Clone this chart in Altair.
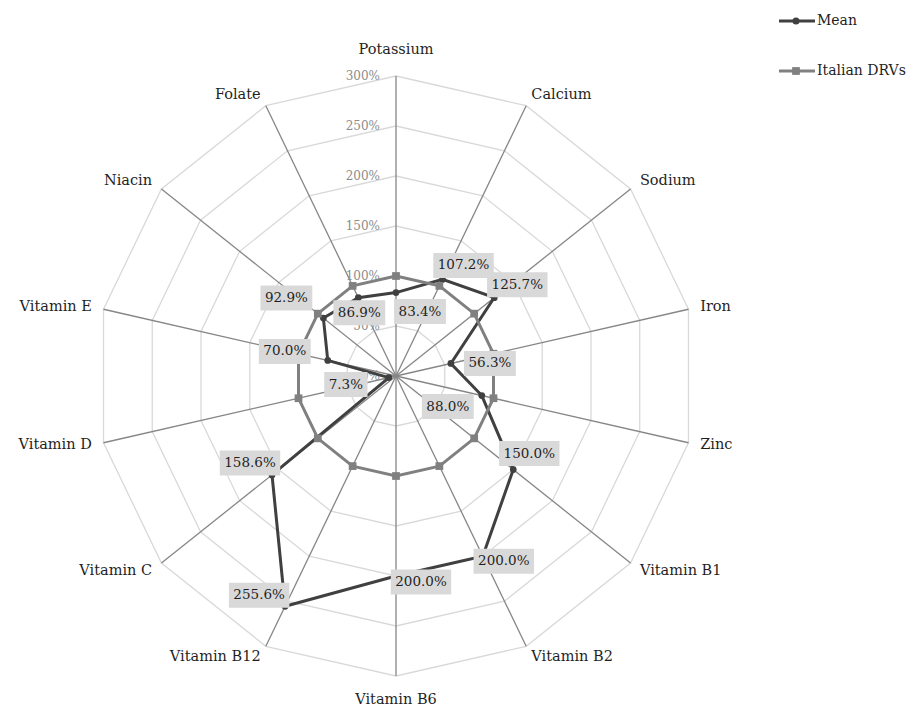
import math
import altair as alt
import pandas as pd

# ---------------- data ----------------
categories = ["Potassium", "Calcium", "Sodium", "Iron", "Zinc", "Vitamin B1",
              "Vitamin B2", "Vitamin B6", "Vitamin B12", "Vitamin C",
              "Vitamin D", "Vitamin E", "Niacin", "Folate"]
mean_values = [83.4, 107.2, 125.7, 56.3, 88.0, 150.0, 200.0, 200.0,
               255.6, 158.6, 7.3, 70.0, 92.9, 86.9]
drv_values = [100, 100, 100, 100, 100, 100, 100, 100, 100, 100, 100, 100, 100, 100]
series_names = ["Mean", "Italian DRVs"]
tick_values = [0, 50, 100, 150, 200, 250, 300]
tick_labels = ["0%", "50%", "100%", "150%", "200%", "250%", "300%"]

# ---------------- style ----------------
FONT = "DejaVu Serif"
MEAN_COLOR = "#404040"
DRV_COLOR = "#808080"
GRID_COLOR = "#d9d9d9"
SPOKE_COLOR = "#868686"
TEXT_COLOR = "#1f1f1f"
# nudges of the data labels from their point (pixels, right / down)
label_nudge = {
    "Potassium": (24, 19), "Calcium": (21, -14), "Sodium": (23, -13),
    "Iron": (39, 0), "Zinc": (-34, 11), "Vitamin B1": (16, -16),
    "Vitamin B2": (21, 5), "Vitamin B6": (25, 6), "Vitamin B12": (-26, -11),
    "Vitamin C": (-22, -12), "Vitamin D": (-43, 7), "Vitamin E": (-43, -9),
    "Niacin": (-37, -20), "Folate": (1, 15),
}
LABEL_FS = 13.5
CHAR_W = {"%": 0.948, ".": 0.318}
DIGIT_W = 0.636

n = len(categories)
R = max(tick_values)


def polar(r, i):
    a = 2 * math.pi * i / n
    return r * math.sin(a), r * math.cos(a)


grid_rows = []
for lv in tick_values[1:]:
    for k in range(n + 1):
        x, y = polar(lv, k % n)
        grid_rows.append({"level": lv, "idx": k, "x": x, "y": y})
grid_df = pd.DataFrame(grid_rows)

spoke_rows = []
for i, c in enumerate(categories):
    x2, y2 = polar(R, i)
    s = math.sin(2 * math.pi * i / n)
    cval = math.cos(2 * math.pi * i / n)
    if abs(s) < 1e-6:
        align = "center"
        lr = R + (26 if cval > 0 else 24)
    else:
        align = "left" if s > 0 else "right"
        lr = R + 12
    lx, ly = polar(lr, i)
    spoke_rows.append({"cat": c, "x0": 0.0, "y0": 0.0, "x2": x2, "y2": y2,
                       "lx": lx, "ly": ly, "align": align})
spoke_df = pd.DataFrame(spoke_rows)

tick_df = pd.DataFrame({"x": [0.0] * len(tick_values), "y": tick_values,
                        "label": tick_labels})


def series_frame(name, vals):
    rows = []
    for k in range(n + 1):
        i = k % n
        x, y = polar(vals[i], i)
        rows.append({"series": name, "order": k, "cat": categories[i],
                     "value": vals[i], "x": x, "y": y})
    return pd.DataFrame(rows)


mean_df = series_frame(series_names[0], mean_values)
drv_df = series_frame(series_names[1], drv_values)


def text_w(t):
    return sum(CHAR_W.get(ch, DIGIT_W) for ch in t) * LABEL_FS


lab_rows = []
for i, c in enumerate(categories):
    x, y = polar(mean_values[i], i)
    dx, dy = label_nudge[c]
    lx, ly = x + dx, y - dy
    txt = f"{mean_values[i]:.1f}%"
    w = text_w(txt) + 9
    lab_rows.append({"label": txt, "lx": lx, "ly": ly,
                     "bx1": lx - w / 2, "bx2": lx + w / 2,
                     "by1": ly - 12.5, "by2": ly + 12.5})
lab_df = pd.DataFrame(lab_rows)

SX = alt.Scale(domain=[-R, R], nice=False, zero=False)
SY = alt.Scale(domain=[-R, R], nice=False, zero=False)


def X(f):
    return alt.X(f, type="quantitative", scale=SX, axis=None)


def Y(f):
    return alt.Y(f, type="quantitative", scale=SY, axis=None)


grid = alt.Chart(grid_df).mark_line(color=GRID_COLOR, strokeWidth=1.3).encode(
    x=X("x"), y=Y("y"), detail="level:N", order="idx:Q")

spokes = alt.Chart(spoke_df).mark_rule(color=SPOKE_COLOR, strokeWidth=1.3).encode(
    x=X("x0"), y=Y("y0"), x2="x2:Q", y2="y2:Q")

ticks = alt.Chart(tick_df).mark_text(
    align="right", baseline="middle", dx=-16, font=FONT, fontSize=12,
    color="#8c8c8c").encode(x=X("x"), y=Y("y"), text="label:N")

mean_line = alt.Chart(mean_df).mark_line(color=MEAN_COLOR, strokeWidth=3).encode(
    x=X("x"), y=Y("y"), order="order:Q")
drv_line = alt.Chart(drv_df).mark_line(color=DRV_COLOR, strokeWidth=3).encode(
    x=X("x"), y=Y("y"), order="order:Q")
mean_pts = alt.Chart(mean_df).transform_filter(alt.datum.order < n).mark_point(
    shape="circle", filled=True, size=45, color=MEAN_COLOR, opacity=1).encode(
    x=X("x"), y=Y("y"))
drv_pts = alt.Chart(drv_df).transform_filter(alt.datum.order < n).mark_point(
    shape="square", filled=True, size=60, color=DRV_COLOR, opacity=1).encode(
    x=X("x"), y=Y("y"))

boxes = alt.Chart(lab_df).mark_rect(color="#d9d9d9").encode(
    x=X("bx1"), x2="bx2:Q", y=Y("by1"), y2="by2:Q")
box_text = alt.Chart(lab_df).mark_text(
    font=FONT, fontSize=LABEL_FS, color=TEXT_COLOR, baseline="middle").encode(
    x=X("lx"), y=Y("ly"), text="label:N")

cat_layers = []
for al in ["left", "right", "center"]:
    cat_layers.append(
        alt.Chart(spoke_df).transform_filter(alt.datum.align == al).mark_text(
            align=al, baseline="middle", font=FONT, fontSize=14.5,
            color=TEXT_COLOR).encode(x=X("lx"), y=Y("ly"), text="cat:N"))

leg_df = pd.DataFrame({"series": series_names})
leg_layers = []
leg_style = [(MEAN_COLOR, "circle", 50), (DRV_COLOR, "square", 60)]
for k, name in enumerate(series_names):
    col, shp, sz = leg_style[k]
    yy = -55 + 50 * k
    base = alt.Chart(leg_df).transform_filter(alt.datum.series == name)
    leg_layers.append(base.mark_rule(color=col, strokeWidth=3).encode(
        x=alt.value(683), x2=alt.value(719), y=alt.value(yy)))
    leg_layers.append(base.mark_point(shape=shp, filled=True, size=sz, color=col,
                                      opacity=1).encode(
        x=alt.value(700), y=alt.value(yy)))
    leg_layers.append(base.mark_text(align="left", baseline="middle", font=FONT,
                                     fontSize=14, color=TEXT_COLOR).encode(
        x=alt.value(721), y=alt.value(yy), text="series:N"))

chart = alt.layer(
    grid, spokes, ticks, mean_line, drv_line, mean_pts, drv_pts,
    boxes, box_text, *cat_layers, *leg_layers
).properties(
    width=600, height=600,
    autosize=alt.AutoSizeParams(type="none"),
    padding={"left": 88, "top": 68, "right": 214, "bottom": 34},
    background="white",
).configure_view(stroke=None, clip=False)

chart.save("out.html", embed_options={"renderer": "svg", "actions": False})
